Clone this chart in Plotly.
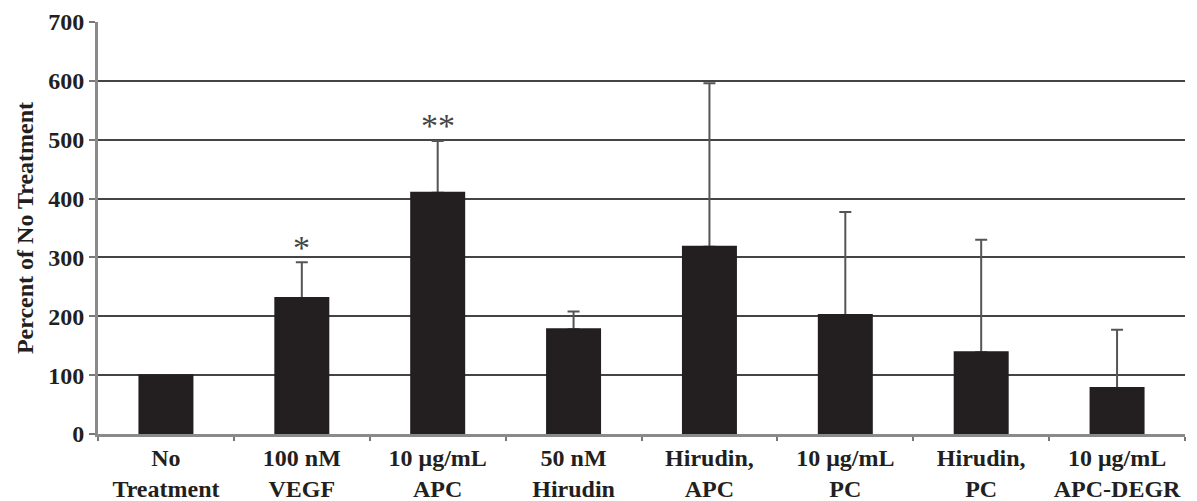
import plotly.graph_objects as go

# Treatment groups (two-line tick labels)
categories = [
    "No<br>Treatment",
    "100 nM<br>VEGF",
    "10 \u03bcg/mL<br>APC",
    "50 nM<br>Hirudin",
    "Hirudin,<br>APC",
    "10 \u03bcg/mL<br>PC",
    "Hirudin,<br>PC",
    "10 \u03bcg/mL<br>APC-DEGR",
]
# Mean response, percent of untreated control
means = [100, 231, 410, 178, 318, 202, 139, 78]
# Upper error (SD) above each mean
errors_up = [0, 61, 88, 30, 278, 175, 191, 99]
# Significance markers
significance = ["", "*", "**", "", "", "", "", ""]

SERIF = "Liberation Serif, Times New Roman, serif"
INK = "#231f20"
FS = 24

fig = go.Figure()

# Upper error bars (drawn underneath the bars, which sit on an overlaid axis)
fig.add_trace(
    go.Scatter(
        x=categories,
        y=means,
        mode="markers",
        marker=dict(opacity=0, size=1),
        error_y=dict(
            type="data",
            symmetric=False,
            array=errors_up,
            arrayminus=[0] * len(means),
            color="#555555",
            thickness=2,
            width=6,
        ),
        hoverinfo="skip",
        showlegend=False,
    )
)

# Bars
fig.add_trace(
    go.Bar(
        x=categories,
        y=means,
        yaxis="y2",
        marker=dict(color=INK, line=dict(width=2, color=INK)),
        showlegend=False,
    )
)

# Significance asterisks above the error bars
for cat, m, e, s in zip(categories, means, errors_up, significance):
    if s:
        fig.add_annotation(
            x=cat, y=m + e, text=s, showarrow=False,
            yanchor="middle", yshift=15,
            font=dict(family=SERIF, size=34, color="#444444"),
        )

fig.update_layout(
    width=1197,
    height=501,
    margin=dict(l=98, r=12, t=22, b=67),
    paper_bgcolor="white",
    plot_bgcolor="white",
    bargap=0.61,
    font=dict(family=SERIF, size=FS, color=INK),
    xaxis=dict(
        type="category",
        automargin=False,
        tickangle=0,
        tickson="boundaries",
        ticks="outside",
        ticklen=4,
        tickwidth=2,
        tickcolor="#777777",
        showline=True,
        linecolor="#8a8a8a",
        linewidth=3,
        showgrid=False,
        tickfont=dict(family=SERIF, size=FS, color=INK, weight="bold"),
    ),
    yaxis=dict(
        range=[0, 700],
        dtick=100,
        automargin=False,
        ticks="outside",
        ticklen=6,
        tickwidth=2,
        tickcolor="#777777",
        showline=True,
        linecolor="#8a8a8a",
        linewidth=3,
        showgrid=True,
        gridcolor="#444444",
        gridwidth=2,
        zeroline=False,
        tickfont=dict(family=SERIF, size=FS, color=INK, weight="bold"),
        title=dict(
            text="Percent of No Treatment",
            standoff=8,
            font=dict(family=SERIF, size=FS, color=INK, weight="bold"),
        ),
    ),
    yaxis2=dict(
        range=[0, 700],
        overlaying="y",
        visible=False,
        showgrid=False,
        zeroline=False,
    ),
)

fig.write_html("out.html")
